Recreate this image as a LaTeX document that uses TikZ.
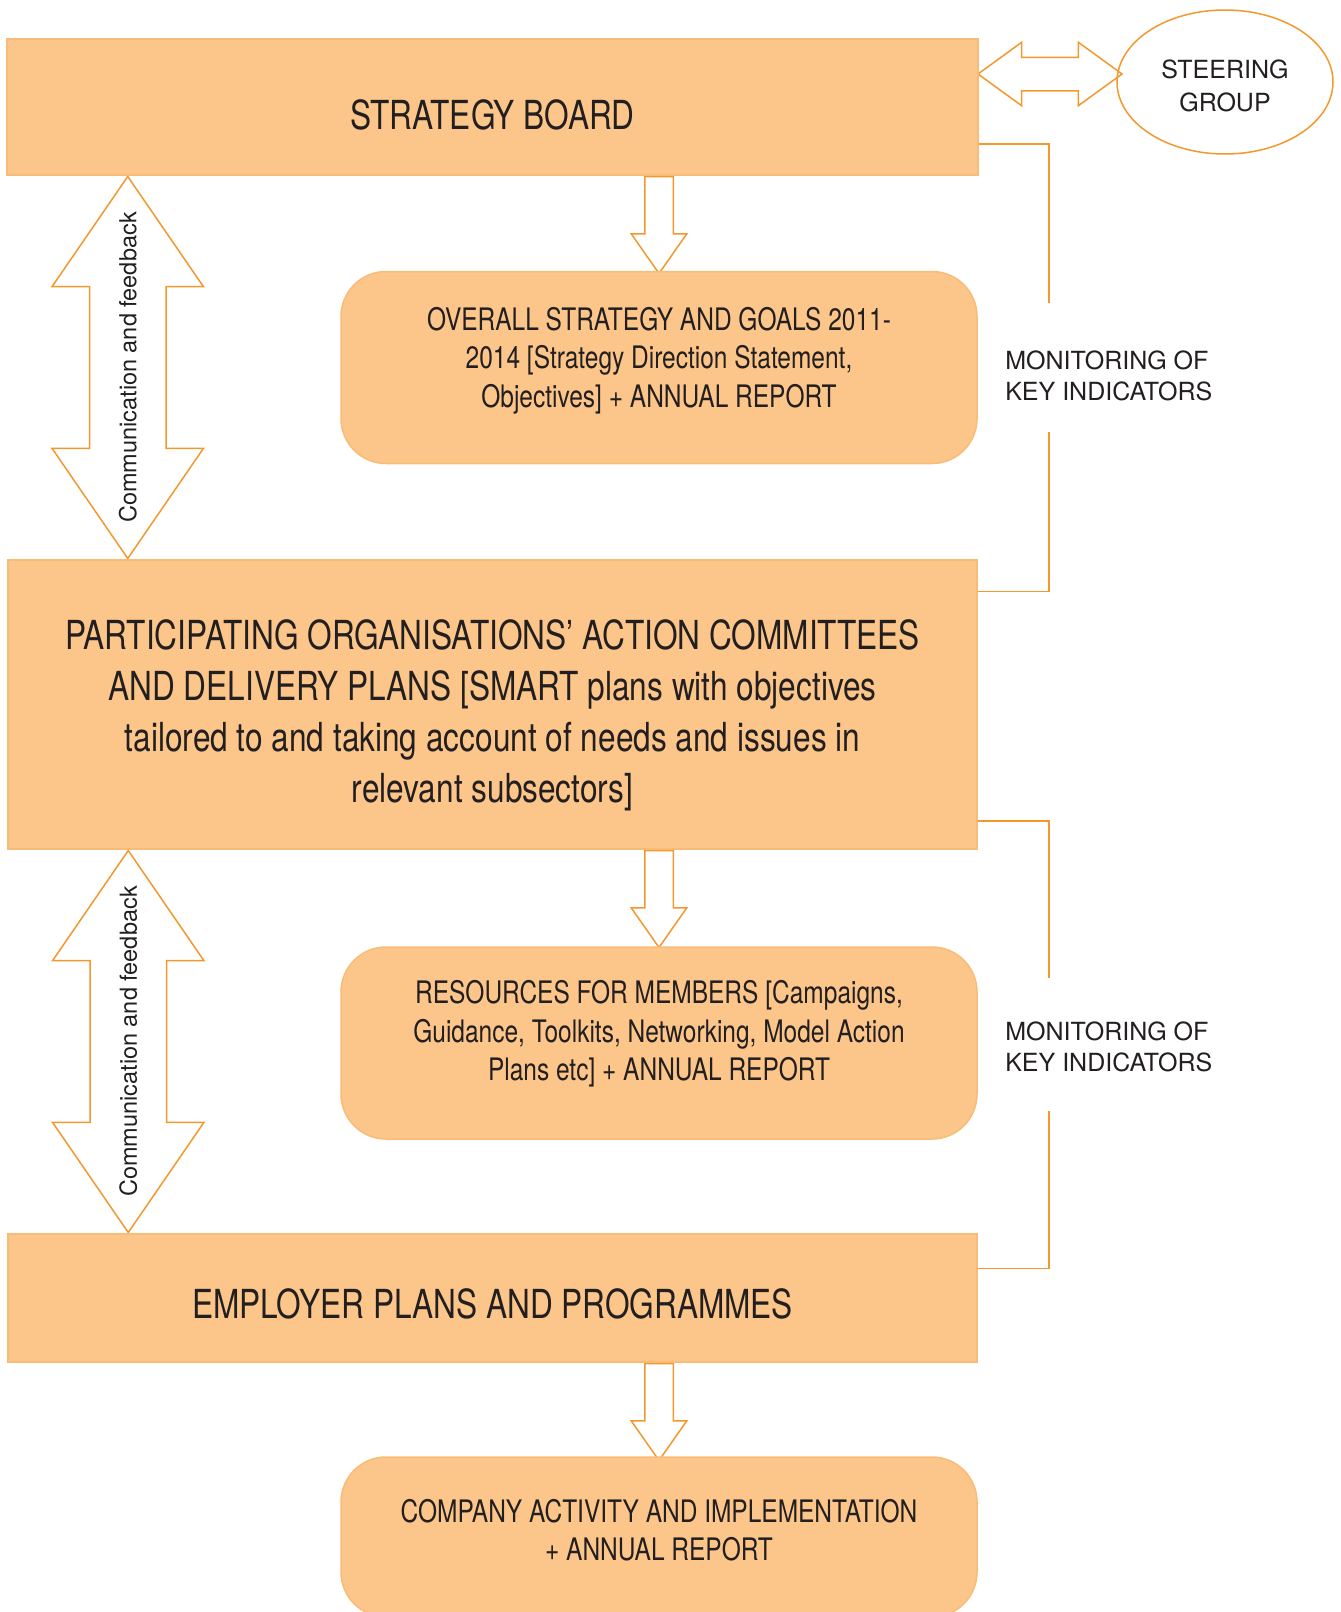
\documentclass[tikz,border=0pt]{standalone}
\usepackage{fontspec}
\setmainfont{TeX Gyre Heros}
\setsansfont{TeX Gyre Heros}
\newfontfamily\condfont[FakeStretch=0.79]{TeX Gyre Heros}
\definecolor{boxorange}{RGB}{252,198,138}
\definecolor{edgeorange}{RGB}{249,188,118}
\definecolor{lineorange}{RGB}{244,152,46}
\definecolor{txtgray}{RGB}{35,31,32}
\tikzset{every picture/.style={/utils/exec={\sffamily}}}
\usetikzlibrary{calc}
\usetikzlibrary{positioning}
\usetikzlibrary{shapes.arrows,shapes.geometric,backgrounds}

\begin{document}
\begin{tikzpicture}[x=1pt, y=-1pt,
  bigbox/.style={fill=boxorange, draw=edgeorange, line width=1.5pt},
  bigtext/.style={text=txtgray, align=center, font=\condfont\fontsize{40}{51}\selectfont},
  roundbox/.style={fill=boxorange, draw=edgeorange, line width=1.5pt, rounded corners=45pt, minimum width=636pt, minimum height=192pt},
  roundtext/.style={text=txtgray, align=center, font=\condfont\fontsize{31}{38.5}\selectfont},
  downarrow/.style={single arrow, draw=lineorange, fill=white, line width=1.5pt, rotate=-90, anchor=tail, inner xsep=0pt, inner ysep=13.5pt, single arrow head extend=13.5pt, single arrow tip angle=70, minimum height=97pt},
  cfarrow/.style={double arrow, draw=lineorange, fill=white, line width=1.5pt, rotate=90, inner xsep=0pt, inner ysep=29pt, text height=17pt, text depth=0pt, double arrow head extend=37.5pt, double arrow tip angle=69, minimum height=382pt, text=txtgray, font=\fontsize{23.5}{28}\selectfont},
  monline/.style={draw=lineorange, line width=1.5pt},
  montext/.style={align=left, text=txtgray, font=\fontsize{25}{31}\selectfont},
]
  \useasboundingbox (0,0) rectangle (1341,1612);

  \node[bigbox, minimum width=971pt, minimum height=136pt,
    label={[bigtext, yshift=-8pt]center:STRATEGY BOARD}] (board) at (492.5,107) {};
  \node[ellipse, draw=lineorange, line width=1.5pt, minimum width=216pt, minimum height=144pt,
    label={[montext, align=center, font=\fontsize{25}{33}\selectfont, yshift=-4pt]center:{STEERING\\GROUP}}] (steer) at (1225,82) {};

  \node[roundbox, label={[roundtext, yshift=7pt]center:{OVERALL STRATEGY AND GOALS 2011-\\2014 [Strategy Direction Statement,\\Objectives] + ANNUAL REPORT}}] (goals) at (659,367.5) {};

  \node[bigbox, minimum width=969pt, minimum height=289pt,
    label={[bigtext, yshift=-11pt]center:{PARTICIPATING ORGANISATIONS’ ACTION COMMITTEES\\AND DELIVERY PLANS [SMART plans with objectives\\tailored to and taking account of needs and issues in\\relevant subsectors]}}] (plans) at (492.5,704.5) {};

  \node[roundbox, label={[roundtext, yshift=9pt]center:{RESOURCES FOR MEMBERS [Campaigns,\\Guidance, Toolkits, Networking, Model Action\\Plans etc] + ANNUAL REPORT}}] (res) at (659,1043) {};

  \node[bigbox, minimum width=969pt, minimum height=128pt,
    label={[bigtext, yshift=-6pt]center:EMPLOYER PLANS AND PROGRAMMES}] (emp) at (492.5,1298) {};

  \node[roundbox, minimum height=160pt, label={[roundtext, yshift=7pt]center:{COMPANY ACTIVITY AND IMPLEMENTATION\\+ ANNUAL REPORT}}] (comp) at (659,1537) {};

  \node[montext, right=24pt of goals, yshift=-8pt] (mon1) {MONITORING OF\\KEY INDICATORS};
  \node[montext, right=24pt of res, yshift=-4pt] (mon2) {MONITORING OF\\KEY INDICATORS};

  \begin{scope}[on background layer]
    \node[double arrow, draw=lineorange, fill=white, line width=1.5pt, inner xsep=0pt, inner ysep=16pt, double arrow head extend=15pt, double arrow tip angle=72, minimum height=144pt] (link) at (1050,74) {};

    \node[downarrow] (down1) at (board.south -| goals.north) {};
    \node[downarrow] (down2) at (plans.south -| res.north) {};
    \node[downarrow] (down3) at (emp.south -| comp.north) {};

    \node[cfarrow] (cf1) at ($(board.south west)!.5!(plans.north west)+(121,0)$) {\makebox[0pt]{Communication and feedback}};
    \node[cfarrow] (cf2) at ($(plans.south west)!.5!(emp.north west)+(121,0)$) {\makebox[0pt]{Communication and feedback}};
  \end{scope}

  % monitoring of key indicators
  \coordinate (m1a) at (1049,303);
  \coordinate (m1b) at (1049,432);
  \coordinate (m2a) at (1049,978);
  \coordinate (m2b) at (1049,1111);
  \draw[monline] ([yshift=32pt]board.south east) -| (m1a);
  \draw[monline] (m1b) |- ([yshift=-32pt]plans.north east);
  \draw[monline] ([yshift=29pt]plans.south east) -| (m2a);
  \draw[monline] (m2b) |- ([yshift=-35pt]emp.north east);
\end{tikzpicture}
\end{document}
